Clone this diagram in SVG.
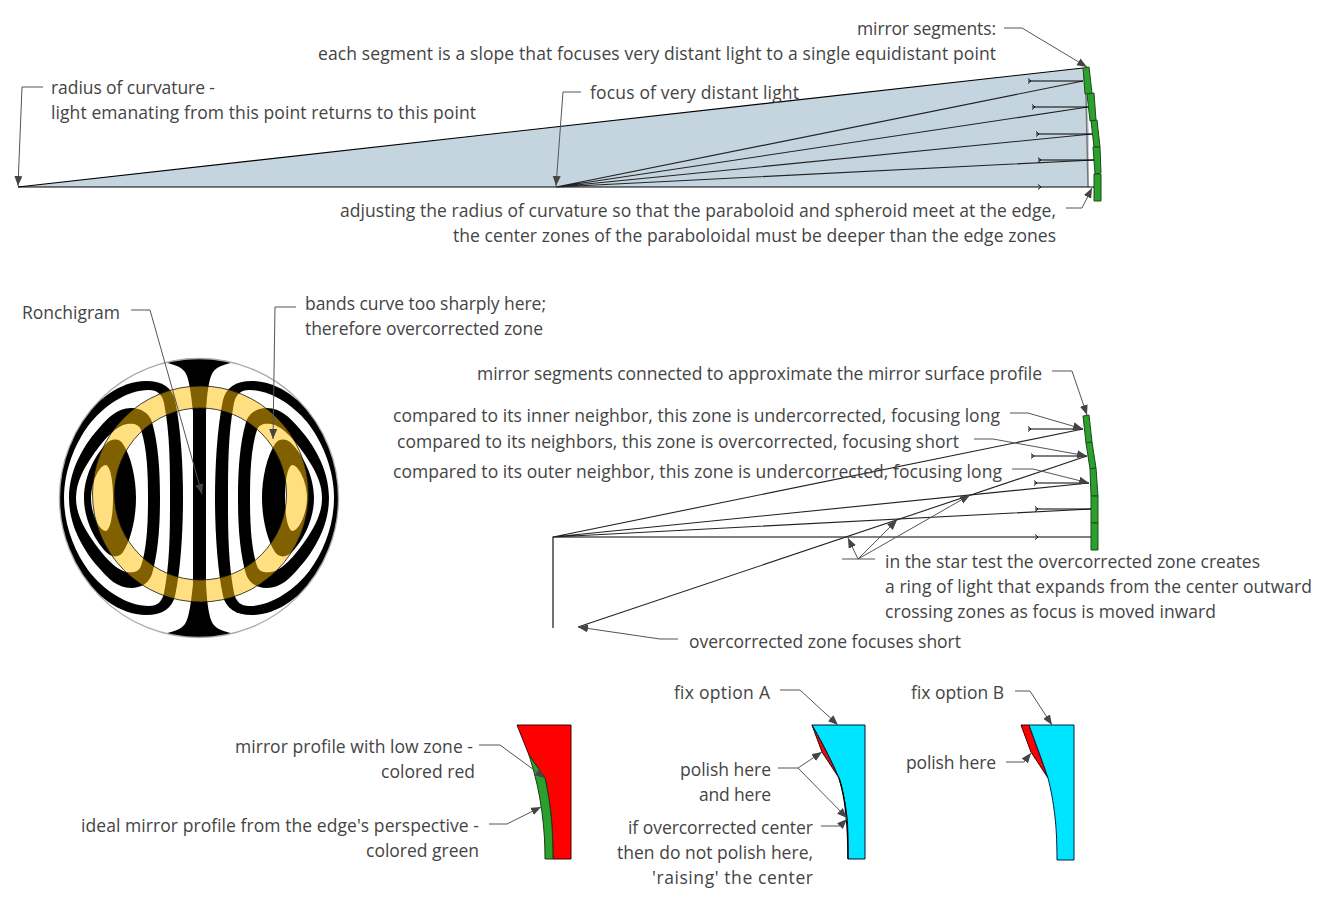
<svg xmlns="http://www.w3.org/2000/svg" width="1333" height="898" viewBox="0 0 1333 898">
<style>
text{font-family:"Open Sans","Noto Sans","Liberation Sans",sans-serif;font-size:17.5px;fill:#444}
.seg{fill:#2ca02c;stroke:#1c4a1c;stroke-width:1}
.ray{fill:none;stroke:#000;stroke-width:1.1}
.rayg{fill:none;stroke:#222;stroke-width:1.1}
.lead{fill:none;stroke:#555;stroke-width:1;marker-end:url(#ah)}
.tick{fill:none;stroke:#111;stroke-width:1}
.blk{fill:#000}.wht{fill:#fff}
</style>
<defs>
<marker id="ah" markerUnits="userSpaceOnUse" markerWidth="12" markerHeight="10" refX="10" refY="4" orient="auto"><path d="M0,0 L10,4 L0,8 Z" fill="#444"/></marker>
<clipPath id="rc"><circle cx="0" cy="0" r="139.5"/></clipPath>
<filter id="soft" x="-5%" y="-5%" width="110%" height="110%"><feGaussianBlur stdDeviation="0.6"/></filter>
<g id="loops">
<path class="blk" d="M16,0 C16,-30 18,-70 24,-98 C27,-110 36,-117 53,-117 C80,-117 104,-96 116,-78 C128,-60 140,-30 140,0 C140,30 128,60 116,78 C104,96 80,117 53,117 C36,117 27,110 24,98 C18,70 16,30 16,0Z"/>
<path class="wht" d="M29,0 C29,-30 29,-65 35,-95 C37,-104 42,-108 50,-108 C72,-108 96,-92 111,-72 C124,-54 135,-28 135,0 C135,28 124,54 111,72 C96,92 72,108 50,108 C42,108 37,104 35,95 C29,65 29,30 29,0Z"/>
<path class="blk" d="M39,0 C39,-30 41,-55 47,-76 C50,-85 58,-90 68,-90 C82,-90 91,-80 99,-71 C113,-56 130,-30 130,0 C130,30 113,56 99,71 C91,80 82,90 68,90 C58,90 50,85 47,76 C41,55 39,30 39,0Z"/>
<path class="wht" d="M51,0 C51,-25 52,-50 58,-68 C60,-74 66,-75 72,-74 C84,-72 96,-57 106,-43 C115,-30 123,-16 123,0 C123,16 115,30 106,43 C96,57 84,72 72,74 C66,75 60,74 58,68 C52,50 51,25 51,0Z"/>
<path class="blk" d="M63,0 C63,-20 68,-42 76,-54 C80,-60 88,-60 94,-53 C104,-42 115,-22 115,0 C115,22 104,42 94,53 C88,60 80,60 76,54 C68,42 63,20 63,0Z"/>
<path class="wht" d="M86,0 C86,-15 88,-31 93,-33 C100,-33 108,-15 108,0 C108,15 100,33 93,33 C88,31 86,15 86,0Z"/>
</g>
</defs>
<rect width="1333" height="898" fill="#fff"/>

<g id="top-mirror">
<path id="light-cone" d="M18,187 L1083,68 L1086,94 L1089,130 L1089,187 Z" fill="#c5d5e0"/>
<path d="M1086,94 L1088,187" fill="none" stroke="#777" stroke-width="1.5"/>
<g class="segments">
<path class="seg" d="M1083,68 L1089,67 L1092,93 L1085,94 Z"/>
<path class="seg" d="M1087,94 L1094,93 L1096,120 L1090,121 Z"/>
<path class="seg" d="M1091,121 L1097,120 L1100,147 L1094,147 Z"/>
<path class="seg" d="M1093,147 L1100,147 L1101,173 L1095,174 Z"/>
<path class="seg" d="M1094,174 L1101,174 L1101,201 L1094,201 Z"/>
</g>
</g>

<g id="ronchigram" transform="translate(199,498)">
<g clip-path="url(#rc)" filter="url(#soft)">
<circle r="139.5" fill="#fff"/>
<use href="#loops"/>
<use href="#loops" transform="scale(-1,1)"/>
<path class="blk" d="M-6,0 L-6,-86 C-8,-105 -10,-120 -14,-126 C-18,-131 -24,-134 -42,-137 L-42,-145 L42,-145 L42,-137 C24,-134 18,-131 14,-126 C10,-120 8,-105 7,-86 L7,86 C8,105 10,120 14,126 C18,131 24,134 42,137 L42,145 L-42,145 L-42,137 C-24,134 -18,131 -14,126 C-10,120 -8,105 -6,86 Z"/>
</g>
<circle r="139.5" fill="none" stroke="#aaa" stroke-width="1.3"/>
<path transform="translate(1.5,-4)" fill="#ffbf00" fill-opacity="0.5" fill-rule="evenodd" stroke="#111" stroke-width="0.8" d="M-108,0 A108,108 0 1 1 108,0 A108,108 0 1 1 -108,0 Z M-86,0 A86,86 0 1 0 86,0 A86,86 0 1 0 -86,0 Z"/>
</g>

<g id="middle-mirror">
<path class="seg" d="M1083,416 L1089,415 L1092,442 L1086,443 Z"/>
<path class="seg" d="M1086,443 L1092,442 L1096,468 L1090,469 Z"/>
<path class="seg" d="M1090,469 L1096,468 L1098,496 L1091,496 Z"/>
<path class="seg" d="M1091,496 L1098,496 L1098,523 L1091,523 Z"/>
<path class="seg" d="M1091,523 L1098,523 L1098,550 L1091,550 Z"/>
</g>

<g id="profile-red">
<path d="M517,725 L571,725 L571,859 L553,859 C553,830 551,805 545,778 L529,755 Z" fill="#f00" stroke="#400" stroke-width="1"/>
<path d="M529,755 L545,778 C551,805 553,830 553,859 L545,859 C545,830 542,795 529,755 Z" fill="#2ca02c" stroke="#1c3a1c" stroke-width="1"/>
</g>
<g id="profile-a">
<path d="M812,725 C816,736 819,744 822,752 L839,778 C830,757 818,735 812,725 Z" fill="#d81010" stroke="#300" stroke-width="1"/>
<path d="M812,725 L865,725 L865,859 L848,859 C848,840 848,825 847,817 C845,800 842,788 839,778 C830,757 818,735 812,725 Z" fill="#00e5ff" stroke="#013" stroke-width="1"/>
<path d="M839,778 C843,790 848,810 848,859" fill="none" stroke="#000" stroke-width="1.4"/>
</g>
<g id="profile-b">
<path d="M1021,725 L1029,725 L1048,778 L1031,752 Z" fill="#f00" stroke="#300" stroke-width="1"/>
<path d="M1029,725 L1074,725 L1074,860 L1057,860 C1057,840 1056,825 1055,817 C1053,800 1051,790 1048,778 C1042,760 1035,742 1029,725 Z" fill="#00e5ff" stroke="#024" stroke-width="1"/>
</g>

<g id="connectors">
<path class="ray" d="M18,187 L1083,68"/>
<path class="ray" d="M18,187 L1094,187"/>
<path class="rayg" d="M556,187 L1083,81 M556,187 L1088,107 M556,187 L1092,134 M556,187 L1094,160"/>
<path class="ray" d="M1028,81 H1083 M1032,107 H1088 M1036,134 H1092 M1038,160 H1094"/>
<path class="tick" d="M1028,78.5 L1031,81 L1028,83.5 M1032,104.5 L1035,107 L1032,109.5 M1036,131.5 L1039,134 L1036,136.5 M1038,157.5 L1041,160 L1038,162.5 M1038,184.5 L1041,187 L1038,189.5"/>

<path class="ray" d="M553,628 L553,537 L1091,537"/>
<path class="rayg" d="M553,537 L1083,429 M553,537 L1089,483 M553,537 L1091,509"/>
<path class="rayg" d="M578,627 L1087,456"/>
<path class="ray" d="M1028,429 H1083 M1031,456 H1087 M1034,483 H1089 M1035,509 H1091"/>
<path class="tick" d="M1028,426.5 L1031,429 L1028,431.5 M1031,453.5 L1034,456 L1031,458.5 M1034,480.5 L1037,483 L1034,485.5 M1035,506.5 L1038,509 L1035,511.5 M1035,534.5 L1038,537 L1035,539.5"/>

<path class="lead" d="M1004,28 H1022 L1087,67"/>
<path class="lead" d="M43,87 H22 L18,186"/>
<path class="lead" d="M581,92 H563 L556,186"/>
<path class="lead" d="M1066,208 H1082 L1092,188"/>
<path class="lead" d="M131,310 H150 L202,494"/>
<path class="lead" d="M296,307 H275 L273,439"/>
<path class="lead" d="M1052,371 H1072 L1087,415"/>
<path class="lead" d="M1010,413 H1028 L1083,429"/>
<path class="lead" d="M974,439 H993 L1087,456"/>
<path class="lead" d="M1012,469 H1033 L1089,483"/>
<path class="lead" d="M875,559 H858 L970,495"/>
<path class="lead" d="M858,559 L897,520"/>
<path class="lead" d="M842,559 H858 L848,538"/>
<path class="lead" d="M678,639 H660 L578,627"/>
<path class="lead" d="M780,690 H800 L838,725"/>
<path class="lead" d="M1015,691 H1030 L1052,725"/>
<path class="lead" d="M479,745 H500 L545,778"/>
<path class="lead" d="M489,824 H507 L541,807"/>
<path class="lead" d="M778,768 H798 L822,752"/>
<path class="lead" d="M798,768 L847,818"/>
<path class="lead" d="M821,826 H840 L847,819"/>
<path class="lead" d="M1006,762 H1024 L1031,753"/>
</g>

<g id="labels">
<text x="857" y="35" textLength="139">mirror segments:</text>
<text x="318" y="60" textLength="678">each segment is a slope that focuses very distant light to a single equidistant point</text>
<text x="51" y="94" textLength="164">radius of curvature -</text>
<text x="51" y="119" textLength="425">light emanating from this point returns to this point</text>
<text x="590" y="99" textLength="209">focus of very distant light</text>
<text x="340" y="217" textLength="716">adjusting the radius of curvature so that the paraboloid and spheroid meet at the edge,</text>
<text x="453" y="242" textLength="603">the center zones of the paraboloidal must be deeper than the edge zones</text>
<text x="22" y="319" textLength="98">Ronchigram</text>
<text x="305" y="310" textLength="241">bands curve too sharply here;</text>
<text x="305" y="335" textLength="238">therefore overcorrected zone</text>
<text x="477" y="380" textLength="565">mirror segments connected to approximate the mirror surface profile</text>
<text x="393" y="422" textLength="607">compared to its inner neighbor, this zone is undercorrected, focusing long</text>
<text x="397" y="448" textLength="562">compared to its neighbors, this zone is overcorrected, focusing short</text>
<text x="393" y="478" textLength="609">compared to its outer neighbor, this zone is undercorrected, focusing long</text>
<text x="885" y="568" textLength="375">in the star test the overcorrected zone creates</text>
<text x="885" y="593" textLength="427">a ring of light that expands from the center outward</text>
<text x="885" y="618" textLength="331">crossing zones as focus is moved inward</text>
<text x="689" y="648" textLength="272">overcorrected zone focuses short</text>
<text x="674" y="699" textLength="96">fix option A</text>
<text x="911" y="699" textLength="93">fix option B</text>
<text x="235" y="753" textLength="238">mirror profile with low zone -</text>
<text x="381" y="778" textLength="94">colored red</text>
<text x="81" y="832" textLength="398">ideal mirror profile from the edge's perspective -</text>
<text x="366" y="857" textLength="113">colored green</text>
<text x="680" y="776" textLength="91">polish here</text>
<text x="699" y="801" textLength="72">and here</text>
<text x="628" y="834" textLength="185">if overcorrected center</text>
<text x="617" y="859" textLength="196">then do not polish here,</text>
<text x="652" y="884" textLength="161">'raising' the center</text>
<text x="906" y="769" textLength="90">polish here</text>
</g>
</svg>
